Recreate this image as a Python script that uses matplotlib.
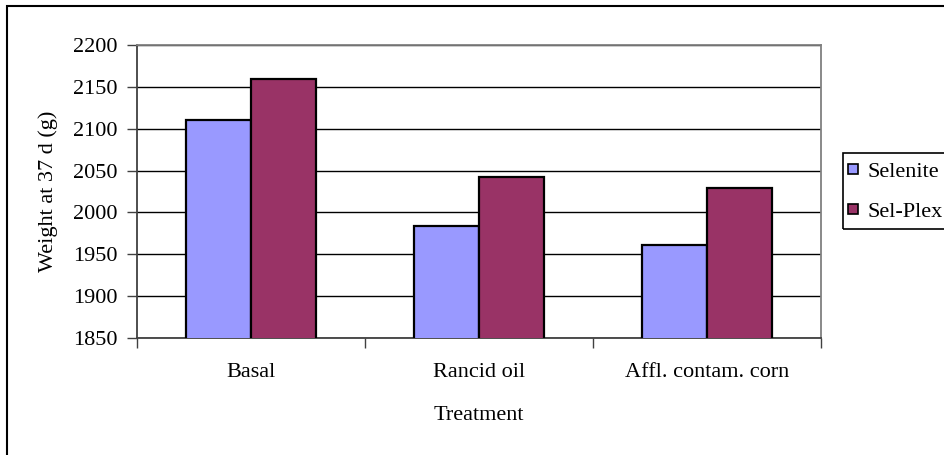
import matplotlib.pyplot as plt
from matplotlib.patches import Rectangle
from matplotlib.lines import Line2D
import numpy as np

# data
treatments = ["Basal", "Rancid oil", "Affl. contam. corn"]
selenite = [2110, 1984, 1961]
sel_plex = [2159, 2042, 2029]
series_names = ["Selenite", "Sel-Plex"]
colors = ["#9999FF", "#993366"]
yticks = [1850, 1900, 1950, 2000, 2050, 2100, 2150, 2200]

plt.rcParams['font.family'] = ['Liberation Serif', 'DejaVu Serif']
fs = 16

fig = plt.figure(figsize=(9.45, 4.55), dpi=100)
W, H = 945, 455
ax = fig.add_axes([137 / W, 1 - 338 / H, (821 - 137) / W, (338 - 45) / H])

x = np.arange(len(treatments))
bw = 1 / 3.5
ax.bar(x - bw / 2, selenite, bw, color=colors[0], edgecolor='black', linewidth=1.6, zorder=3)
ax.bar(x + bw / 2, sel_plex, bw, color=colors[1], edgecolor='black', linewidth=1.6, zorder=3)

ax.set_ylim(1850, 2200)
ax.set_xlim(-0.5, len(treatments) - 0.5)
ax.set_yticks(yticks)
ax.set_yticklabels([str(v) for v in yticks], fontsize=fs)
ax.yaxis.grid(True, color='black', linewidth=1.0, zorder=0)
ax.tick_params(axis='y', direction='out', length=7, width=1, pad=7, color='#404040')

# category boundary ticks, labels on minor ticks
ax.set_xticks(np.arange(-0.5, len(treatments), 1.0))
ax.set_xticklabels([])
ax.tick_params(axis='x', which='major', direction='out', length=7, width=1, color='#404040')
ax.set_xticks(x, minor=True)
ax.set_xticklabels(treatments, minor=True, fontsize=fs)
ax.tick_params(axis='x', which='minor', length=0, pad=18)

ax.set_xlabel("Treatment", fontsize=fs, labelpad=17)
ax.set_ylabel("Weight at 37 d (g)", fontsize=fs, labelpad=11)

for side in ['left', 'bottom']:
    ax.spines[side].set_color('#404040')
    ax.spines[side].set_linewidth(1.3)
for side in ['top', 'right']:
    ax.spines[side].set_color('#808080')
    ax.spines[side].set_linewidth(1.3)

# outer chart border (runs off the right and bottom edges)
fig.patches.append(Rectangle((7 / W, -0.2), 2.0, 0.2 + 1 - 6 / H, transform=fig.transFigure,
                             fill=False, edgecolor='black', linewidth=1.5))

# legend box (also runs off the right edge)
fig.patches.append(Rectangle((843 / W, 1 - 229 / H), 0.5, (229 - 153) / H, transform=fig.transFigure,
                             fill=False, edgecolor='black', linewidth=1.2))
handles = [Line2D([], [], marker='s', linestyle='none', markersize=7.5,
                  markerfacecolor=c, markeredgecolor='black', markeredgewidth=1.2) for c in colors]
fig.legend(handles, series_names, loc='upper left', bbox_to_anchor=(846 / W, 1 - 161 / H),
           frameon=False, fontsize=fs, handlelength=0.6, handletextpad=0.35,
           labelspacing=0.9, borderpad=0, borderaxespad=0)

fig.savefig("out.png", dpi=100)
